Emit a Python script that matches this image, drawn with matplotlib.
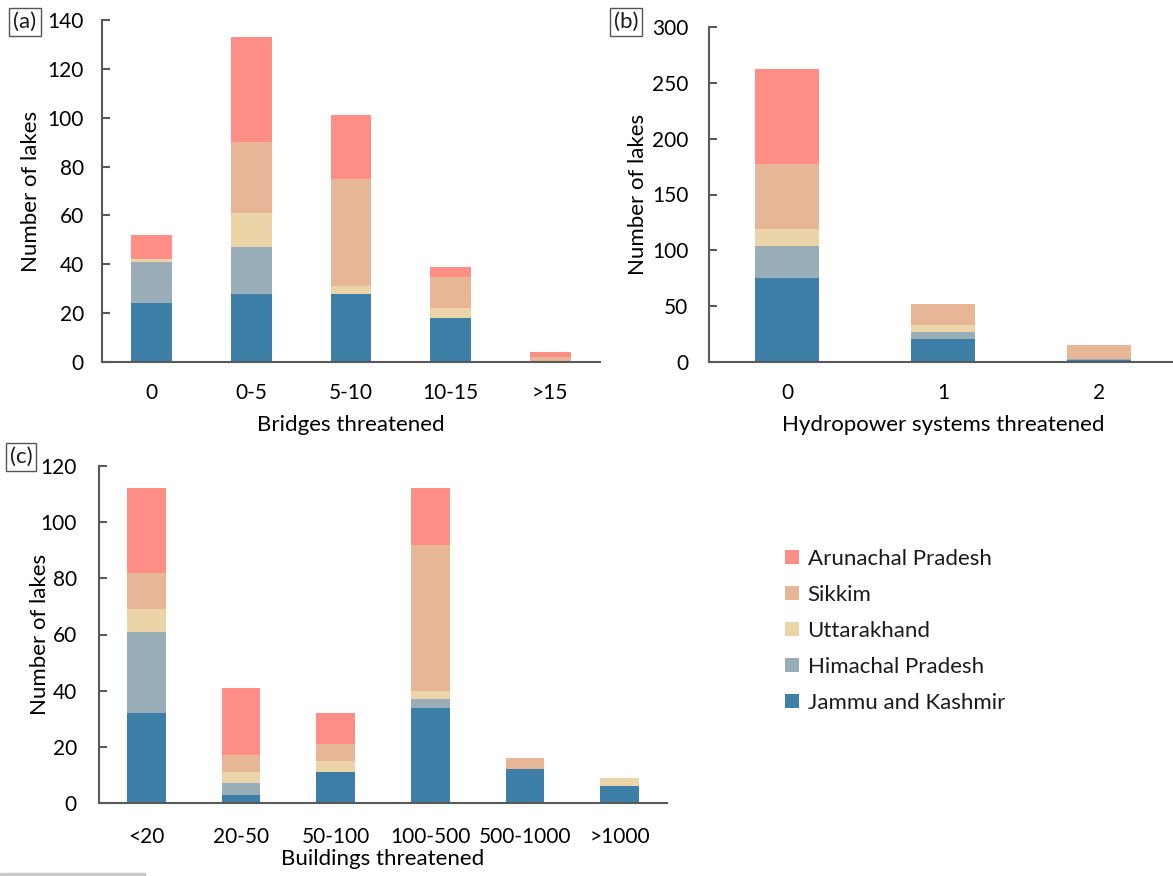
import numpy as np
import matplotlib
matplotlib.use('Agg')
import matplotlib.pyplot as plt
from matplotlib.patches import Patch, Rectangle

plt.rcParams['font.family'] = ['Lato', 'DejaVu Sans']
plt.rcParams['font.size'] = 15
plt.rcParams['text.color'] = '#1a1a1a'

states = ['Jammu and Kashmir', 'Himachal Pradesh', 'Uttarakhand', 'Sikkim', 'Arunachal Pradesh']
state_colors = ['#3d7fa6', '#99aeb9', '#ebd4a7', '#e6b697', '#fe8e86']

# (a) bridges threatened
bridge_cats = ['0', '0-5', '5-10', '10-15', '>15']
bridge_jk = [24, 28, 28, 18, 0]
bridge_hp = [17, 19, 0, 0, 0]
bridge_uk = [1, 14, 3, 4, 0]
bridge_sk = [0, 29, 44, 13, 2]
bridge_ap = [10, 43, 26, 4, 2]

# (b) hydropower systems threatened
hydro_cats = ['0', '1', '2']
hydro_jk = [75, 21, 2]
hydro_hp = [29, 6, 1]
hydro_uk = [15, 6, 0]
hydro_sk = [58, 19, 12]
hydro_ap = [85, 0, 0]

# (c) buildings threatened
build_cats = ['<20', '20-50', '50-100', '100-500', '500-1000', '>1000']
build_jk = [32, 3, 11, 34, 12, 6]
build_hp = [29, 4, 0, 3, 0, 0]
build_uk = [8, 4, 4, 3, 0, 3]
build_sk = [13, 6, 6, 52, 4, 0]
build_ap = [30, 24, 11, 20, 0, 0]

W, H = 1173, 876
fig = plt.figure(figsize=(W / 100, H / 100), dpi=100)


def px_axes(left, top, right, bottom):
    return fig.add_axes([left / W, 1 - bottom / H, (right - left) / W, (bottom - top) / H])


def stacked(ax, cats, series, ymax, ystep, xlabel, tag, tag_xy, ylabel_x,
            ypad=14, xpad=15, xlabelpad=9, width=0.41):
    x = np.arange(len(cats))
    base = np.zeros(len(cats))
    for vals, col in zip(series, state_colors):
        ax.bar(x, vals, width, bottom=base, color=col, linewidth=0)
        base += np.array(vals)
    ax.set_xlim(-0.5, len(cats) - 0.5)
    ax.set_ylim(0, ymax)
    ax.set_yticks(np.arange(0, ymax + 1, ystep))
    ax.set_xticks(x)
    ax.set_xticklabels(cats)
    for s in ('top', 'right'):
        ax.spines[s].set_visible(False)
    for s in ('left', 'bottom'):
        ax.spines[s].set_color('#595959')
        ax.spines[s].set_linewidth(1.5)
    ax.tick_params(axis='y', direction='in', length=6, width=1.5, color='#595959', pad=ypad)
    ax.tick_params(axis='x', length=0, pad=xpad)
    ax.set_ylabel('Number of lakes', fontsize=16)
    ax.yaxis.set_label_coords(ylabel_x, 0.5)
    ax.set_xlabel(xlabel, fontsize=16, labelpad=xlabelpad)
    fig.text(tag_xy[0] / W, 1 - tag_xy[1] / H, tag, ha='center', va='center', fontsize=16,
             bbox=dict(boxstyle='square,pad=0.18', fc='white', ec='#555555', lw=1))


ax_a = px_axes(102, 20, 600, 362)
stacked(ax_a, bridge_cats, [bridge_jk, bridge_hp, bridge_uk, bridge_sk, bridge_ap],
        140, 20, 'Bridges threatened', '(a)', (25, 22), -0.1225, ypad=13)

ax_b = px_axes(709, 27, 1177, 362)
stacked(ax_b, hydro_cats, [hydro_jk, hydro_hp, hydro_uk, hydro_sk, hydro_ap],
        300, 50, 'Hydropower systems threatened', '(b)', (626, 22), -0.130, ypad=15)

ax_c = px_axes(99, 466, 667, 803)
stacked(ax_c, build_cats, [build_jk, build_hp, build_uk, build_sk, build_ap],
        120, 20, 'Buildings threatened', '(c)', (21, 457), -0.0863,
        ypad=16, xpad=17, xlabelpad=2)

handles = [Patch(facecolor=c, edgecolor='none') for c in state_colors][::-1]
fig.legend(handles, states[::-1], loc='upper left', bbox_to_anchor=(776 / W, 1 - 540 / H),
           frameon=False, handlelength=0.62, handleheight=0.62, handletextpad=0.4,
           labelspacing=0.72, fontsize=16, borderaxespad=0)

# thin grey rule along the lower left edge
fig.patches.append(Rectangle((0, 0), 145 / W, 3 / H, transform=fig.transFigure,
                             color='#c9c9c9', zorder=0))

fig.savefig('out.png', dpi=100)
